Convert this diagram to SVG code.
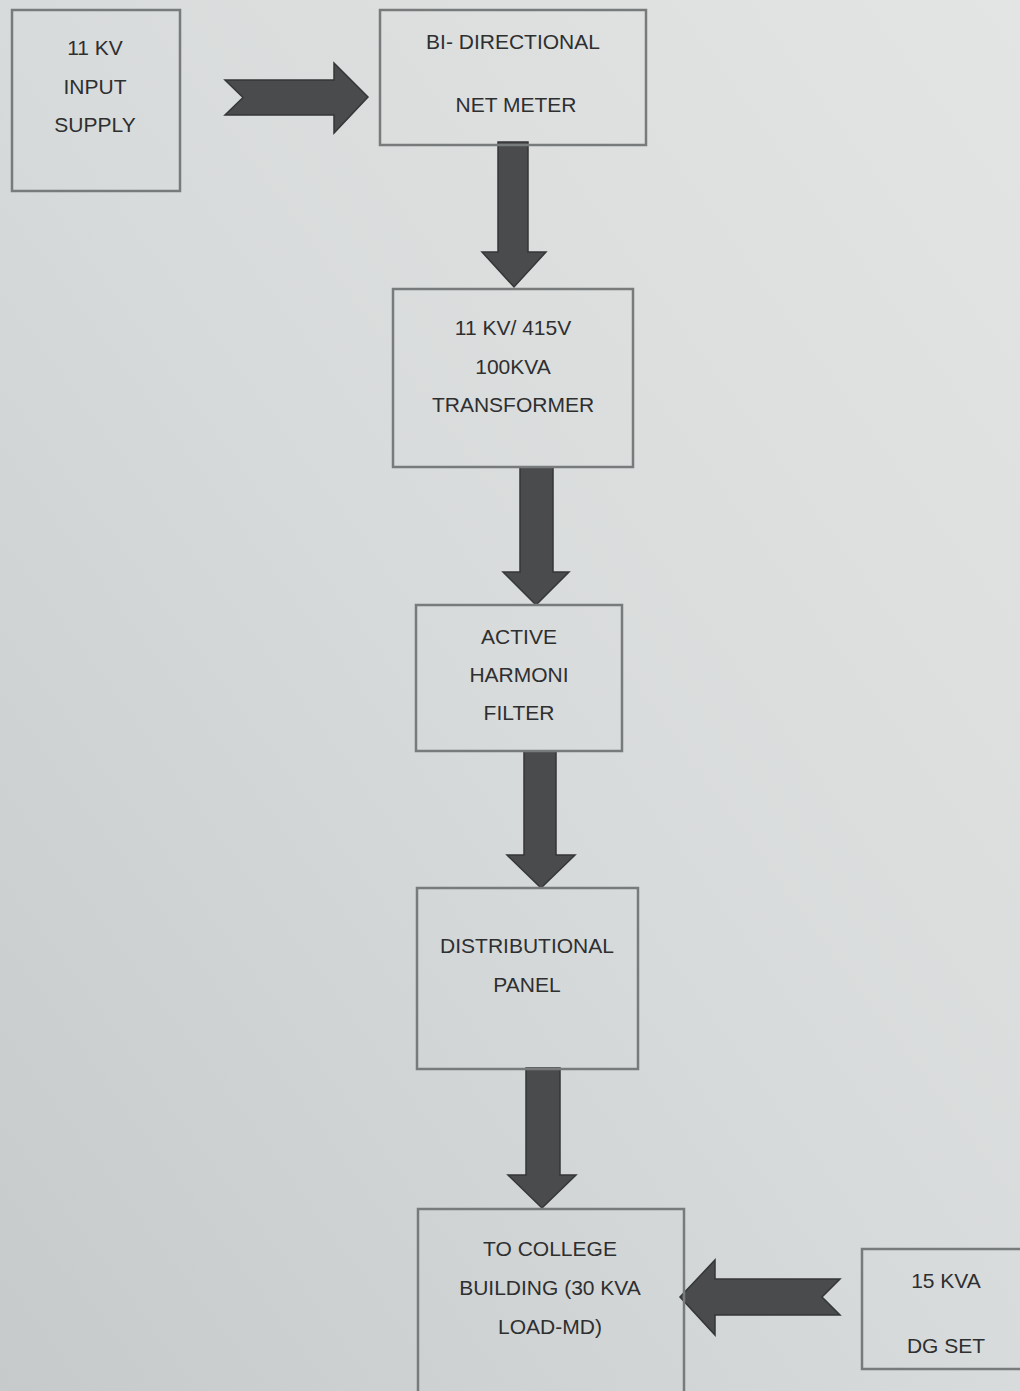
<svg xmlns="http://www.w3.org/2000/svg" width="1020" height="1391" viewBox="0 0 1020 1391">
<defs>
<linearGradient id="bg" x1="1" y1="0" x2="0" y2="1">
<stop offset="0" stop-color="#e3e5e4"/>
<stop offset="0.5" stop-color="#d8dbdb"/>
<stop offset="1" stop-color="#c6caca"/>
</linearGradient>
</defs>
<style>
.box{fill:none;stroke:#777b7b;stroke-width:2.5}
.arr{fill:#4a4b4c;stroke:#353637;stroke-width:1.5;stroke-linejoin:miter}
text{font-family:"Liberation Sans",Arial,sans-serif;font-size:21px;fill:#2e2f30;text-anchor:middle;dominant-baseline:central}
</style>
<rect x="0" y="0" width="1020" height="1391" fill="url(#bg)"/>
<g id="connectors">
<path class="arr" d="M225,80 L334,80 L334,63 L368,97 L334,133 L334,115 L225,115 L243,97.5 Z"/>
<path class="arr" d="M498,142 L528,142 L528,252 L546,252 L514,287 L482,252 L498,252 Z"/>
<path class="arr" d="M520,467 L553,467 L553,572 L569,572 L536,605 L503,572 L520,572 Z"/>
<path class="arr" d="M524,751 L556,751 L556,855 L575,855 L541,888 L507,855 L524,855 Z"/>
<path class="arr" d="M526,1068 L560,1068 L560,1175 L576,1175 L542,1208 L508,1175 L526,1175 Z"/>
<path class="arr" d="M840,1279 L715,1279 L715,1260 L680,1297 L715,1335 L715,1315 L840,1315 L822,1297 Z"/>
</g>
<g id="input">
<rect class="box" x="12" y="10" width="168" height="181"/>
<text x="95" y="47">11 KV</text>
<text x="95" y="86">INPUT</text>
<text x="95" y="124">SUPPLY</text>
</g>
<g id="meter">
<rect class="box" x="380" y="10" width="266" height="135"/>
<text x="513" y="41">BI- DIRECTIONAL</text>
<text x="516" y="104">NET METER</text>
</g>
<g id="transformer">
<rect class="box" x="393" y="289" width="240" height="178"/>
<text x="513" y="327">11 KV/ 415V</text>
<text x="513" y="366">100KVA</text>
<text x="513" y="404">TRANSFORMER</text>
</g>
<g id="filter">
<rect class="box" x="416" y="605" width="206" height="146"/>
<text x="519" y="636">ACTIVE</text>
<text x="519" y="674">HARMONI</text>
<text x="519" y="712">FILTER</text>
</g>
<g id="panel">
<rect class="box" x="417" y="888" width="221" height="181"/>
<text x="527" y="945">DISTRIBUTIONAL</text>
<text x="527" y="984">PANEL</text>
</g>
<g id="college">
<rect class="box" x="418" y="1209" width="266" height="190"/>
<text x="550" y="1248">TO COLLEGE</text>
<text x="550" y="1287">BUILDING (30 KVA</text>
<text x="550" y="1326">LOAD-MD)</text>
</g>
<g id="dgset">
<rect class="box" x="862" y="1249" width="170" height="120"/>
<text x="946" y="1280">15 KVA</text>
<text x="946" y="1345">DG SET</text>
</g>
</svg>
